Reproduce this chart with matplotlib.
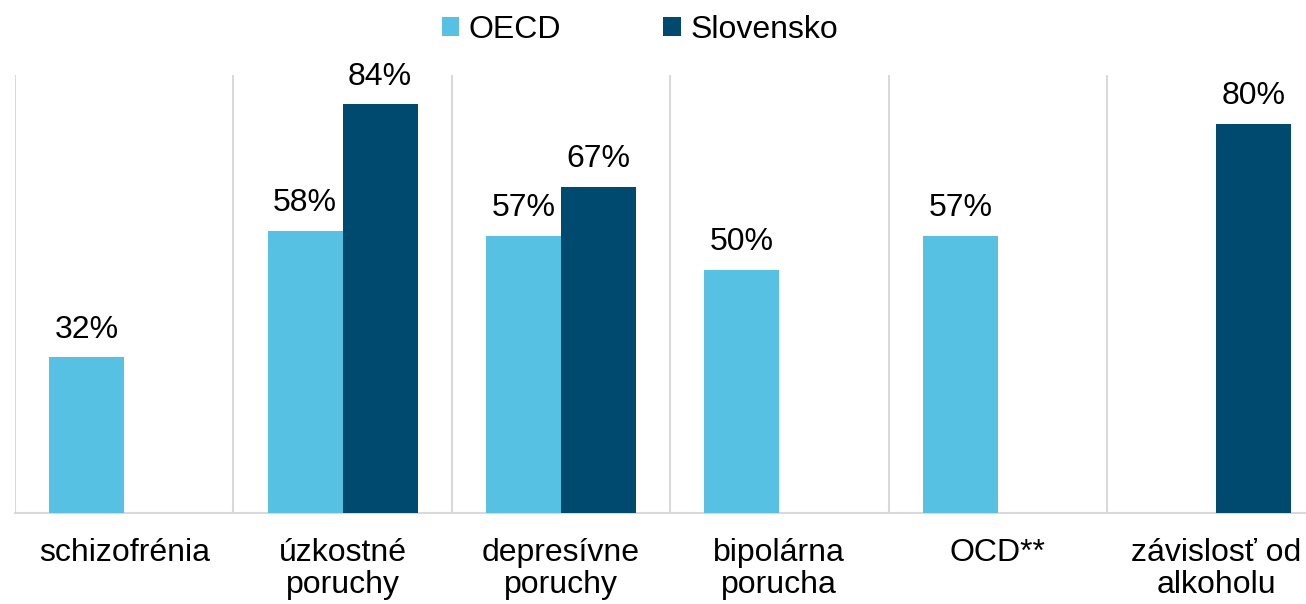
import numpy as np
import matplotlib.pyplot as plt

categories = ["schizofrénia", "úzkostné\nporuchy", "depresívne\nporuchy",
              "bipolárna\nporucha", "OCD**", "závislosť od\nalkoholu"]
oecd = [32, 58, 57, 50, 57, np.nan]
slovensko = [np.nan, 84, 67, np.nan, np.nan, 80]

C_OECD = "#56C1E2"
C_SK = "#004A70"

plt.rcParams["font.family"] = ["Liberation Sans", "DejaVu Sans"]
FS = 23

fig = plt.figure(figsize=(13.06, 6.04), dpi=100)
ax = fig.add_axes([15 / 1306, (604 - 513) / 604, 1310.4 / 1306, (513 - 75) / 604])

x = np.arange(len(categories))
w = 0.343
b1 = ax.bar(x - w / 2, oecd, w, color=C_OECD, label="OECD", zorder=3)
b2 = ax.bar(x + w / 2, slovensko, w, color=C_SK, label="Slovensko", zorder=3)

for bars, vals in ((b1, oecd), (b2, slovensko)):
    for rect, v in zip(bars, vals):
        if np.isnan(v):
            continue
        ax.annotate(f"{v:.0f}%", (rect.get_x() + rect.get_width() / 2, v),
                    xytext=(0, 14), textcoords="offset points",
                    ha="center", va="baseline", fontsize=FS)

ax.set_xlim(-0.5, len(categories) - 0.5)
ax.set_ylim(0, 90)
ax.set_yticks([])
ax.set_xticks(x)
ax.set_xticklabels(categories, fontsize=FS, linespacing=1.1)
ax.tick_params(axis="x", length=0, pad=18)
ax.set_xticks(np.arange(len(categories) + 1) - 0.5, minor=True)
ax.tick_params(axis="x", which="minor", length=0)
ax.grid(True, which="minor", axis="x", color="#D9D9D9", linewidth=1.5, zorder=0)

for s in ("top", "right", "left"):
    ax.spines[s].set_visible(False)
ax.spines["bottom"].set_color("#D9D9D9")
ax.spines["bottom"].set_linewidth(1.5)

fig.legend(loc="center", bbox_to_anchor=(0.49, 1 - 30 / 604), ncol=2,
           frameon=False, fontsize=FS, handlelength=0.55, handleheight=0.55,
           handletextpad=0.3, columnspacing=3.2)

fig.savefig("out.png", dpi=100)
